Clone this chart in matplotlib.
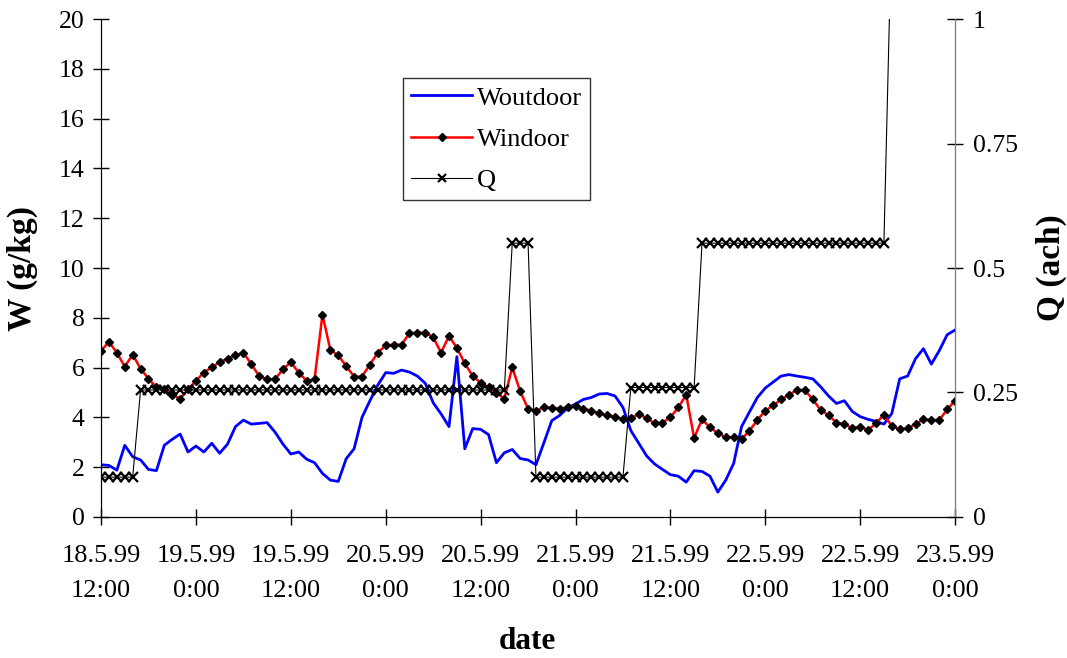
import numpy as np
import pandas as pd
import matplotlib
matplotlib.use("Agg")
import matplotlib.pyplot as plt
from matplotlib.ticker import FixedLocator, FuncFormatter

plt.rcParams['font.family'] = ['Liberation Serif', 'DejaVu Serif']

# hourly readings starting 18.5.99 12:00
w_outdoor = [2.10, 2.07, 1.88, 2.88, 2.42, 2.29, 1.91, 1.86, 2.88, 3.12,
             3.33, 2.61, 2.85, 2.61, 2.96, 2.56, 2.93, 3.63, 3.89, 3.73,
             3.76, 3.79, 3.41, 2.93, 2.53, 2.61, 2.32, 2.18, 1.75, 1.48,
             1.43, 2.34, 2.74, 4.00, 4.67, 5.30, 5.80, 5.77, 5.90, 5.82,
             5.66, 5.37, 4.59, 4.14, 3.63, 6.44, 2.74, 3.55, 3.52, 3.31,
             2.18, 2.58, 2.71, 2.35, 2.29, 2.10, 2.98, 3.87, 4.08, 4.38,
             4.54, 4.72, 4.80, 4.94, 4.96, 4.86, 4.40, 3.47, 2.96, 2.45,
             2.13, 1.91, 1.70, 1.64, 1.40, 1.86, 1.83, 1.64, 1.00, 1.48,
             2.15, 3.63, 4.22, 4.80, 5.18, 5.42, 5.66, 5.72, 5.66, 5.61,
             5.55, 5.23, 4.86, 4.56, 4.67, 4.24, 4.03, 3.92, 3.84, 3.73,
             4.16, 5.55, 5.66, 6.36, 6.76, 6.14, 6.68, 7.32, 7.51, 7.72]

w_indoor = [6.68, 7.03, 6.60, 6.04, 6.52, 5.96, 5.55, 5.21, 5.13, 4.91,
            4.75, 5.13, 5.47, 5.80, 6.01, 6.22, 6.36, 6.49, 6.60, 6.14,
            5.66, 5.53, 5.53, 5.93, 6.22, 5.80, 5.47, 5.53, 8.13, 6.71,
            6.49, 6.06, 5.64, 5.64, 6.12, 6.60, 6.89, 6.92, 6.92, 7.38,
            7.40, 7.40, 7.22, 6.60, 7.27, 6.79, 6.17, 5.66, 5.39, 5.21,
            4.99, 4.75, 6.01, 5.05, 4.35, 4.24, 4.43, 4.38, 4.35, 4.40,
            4.46, 4.35, 4.27, 4.16, 4.08, 4.03, 3.92, 3.97, 4.13, 3.97,
            3.76, 3.79, 4.00, 4.40, 4.91, 3.17, 3.92, 3.60, 3.36, 3.20,
            3.20, 3.12, 3.47, 3.89, 4.27, 4.48, 4.72, 4.91, 5.10, 5.10,
            4.72, 4.30, 4.08, 3.79, 3.73, 3.57, 3.63, 3.49, 3.76, 4.11,
            3.65, 3.52, 3.57, 3.73, 3.92, 3.89, 3.89, 4.32, 4.67, 4.95]

# air change rate, held constant over runs of hours
q_levels = [0.08, 0.255, 0.55, 0.08, 0.26, 0.55, 1.2]
q_run_hours = [5, 47, 3, 12, 9, 24, 1]

start = pd.Timestamp('1999-05-18 12:00')
t_w = np.arange(len(w_outdoor))
q = np.repeat(q_levels, q_run_hours)
t_q = np.arange(len(q))


def date_label(h, pos):
    ts = start + pd.Timedelta(hours=h)
    return f"{ts.day}.{ts.month}.{ts.strftime('%y')}\n{ts.hour}:{ts.minute:02d}"


fig = plt.figure(figsize=(10.67, 6.58), dpi=100)
ax = fig.add_axes([0.0947, 0.2143, 0.8004, 0.7568])
ax2 = ax.twinx()

l1, = ax.plot(t_w, w_outdoor, color='#0000ff', lw=2.0, label='Woutdoor')
l2, = ax.plot(t_w, w_indoor, color='#ff0000', lw=1.8, marker='D', ms=4.5,
              mfc='black', mec='black', label='Windoor')
l3, = ax2.plot(t_q, q, color='black', lw=0.8, marker='x', ms=7, mew=1.6,
               label='Q')

ax.set_xlim(0, 108)
ax.set_ylim(0, 20)
ax2.set_ylim(0, 1)

ax.xaxis.set_major_locator(FixedLocator(np.arange(0, 109, 12)))
ax.xaxis.set_major_formatter(FuncFormatter(date_label))
ax.set_yticks(np.arange(0, 21, 2))
ax2.set_yticks([0, 0.25, 0.5, 0.75, 1])
ax2.set_yticklabels(['0', '0.25', '0.5', '0.75', '1'])

for a in (ax, ax2):
    a.tick_params(direction='inout', length=12, width=1, labelsize=18.5)
    a.spines['top'].set_visible(False)
ax.tick_params(axis='x', pad=14, labelsize=19)
for lbl in ax.get_xticklabels():
    lbl.set_linespacing(1.75)
ax.tick_params(axis='y', pad=6)
ax2.tick_params(axis='y', pad=7)
ax2.spines['right'].set_color('#808080')

ax.set_ylabel('W (g/kg)', fontsize=24, fontweight='bold')
ax.yaxis.set_label_coords(-0.074, 0.5)
ax2.set_ylabel('Q (ach)', fontsize=24, fontweight='bold')
ax2.yaxis.set_label_coords(1.094, 0.5)
ax.set_xlabel('date', fontsize=22.5, fontweight='bold')
ax.xaxis.set_label_coords(0.499, -0.221)

leg = ax2.legend(handles=[l1, l2, l3], loc='upper left',
                 bbox_to_anchor=(0.354, 0.881), fontsize=19, frameon=True,
                 fancybox=False, handlelength=2.3, borderpad=0.3,
                 labelspacing=0.68, handletextpad=0.2, markerscale=0.8,
                 borderaxespad=0)
leg.get_frame().set_edgecolor('black')
leg.get_frame().set_linewidth(1.0)

fig.savefig('out.png', dpi=100)
